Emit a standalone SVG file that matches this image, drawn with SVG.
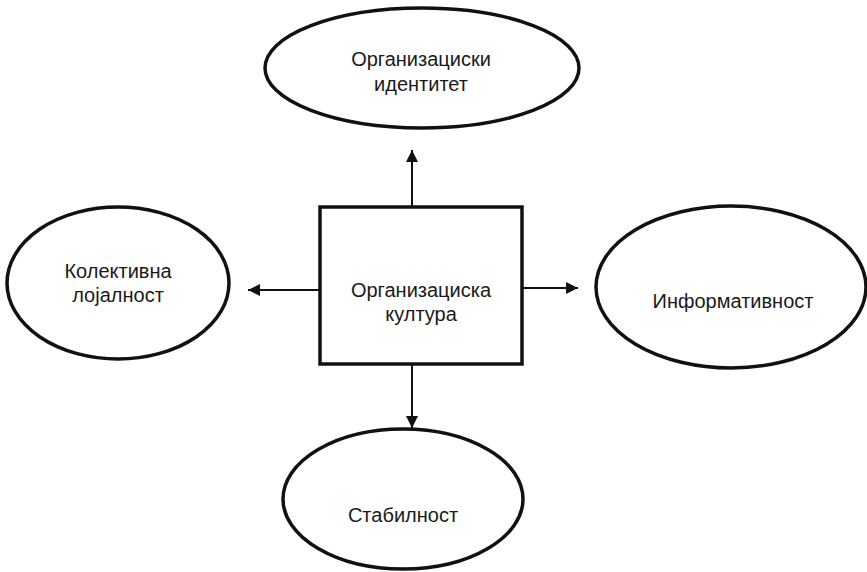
<svg xmlns="http://www.w3.org/2000/svg" width="867" height="572" viewBox="0 0 867 572">
<style>
.n{fill:#fff;stroke:#111;stroke-width:3.5}
.t{font-family:"Liberation Sans",Arial,sans-serif;font-size:20px;fill:#1a1a1a;text-anchor:middle}
.c{stroke:#111;stroke-width:2;fill:none}
</style>
<defs>
<marker id="a" viewBox="0 0 12 12" refX="12" refY="6" markerWidth="12" markerHeight="12" markerUnits="userSpaceOnUse" orient="auto">
<path d="M0,0 L12,6 L0,12 Z" fill="#111"/>
</marker>
</defs>
<rect width="867" height="572" fill="#fff"/>
<g id="connectors">
<line class="c" x1="412" y1="207" x2="412" y2="150" marker-end="url(#a)"/>
<line class="c" x1="320" y1="290" x2="248" y2="290" marker-end="url(#a)"/>
<line class="c" x1="522" y1="288" x2="578" y2="288" marker-end="url(#a)"/>
<line class="c" x1="412" y1="364" x2="412" y2="428" marker-end="url(#a)"/>
</g>
<g id="center">
<rect class="n" x="320" y="207" width="202" height="157"/>
<text class="t" x="421" y="297">Организациска</text>
<text class="t" x="421" y="321">култура</text>
</g>
<g id="top">
<ellipse class="n" cx="422" cy="68" rx="157" ry="60"/>
<text class="t" x="421" y="66">Организациски</text>
<text class="t" x="421" y="91">идентитет</text>
</g>
<g id="left">
<ellipse class="n" cx="118" cy="283" rx="111" ry="76"/>
<text class="t" x="118" y="278">Колективна</text>
<text class="t" x="118" y="302">лојалност</text>
</g>
<g id="right">
<ellipse class="n" cx="731" cy="287" rx="135" ry="81"/>
<text class="t" x="733" y="308">Информативност</text>
</g>
<g id="bottom">
<ellipse class="n" cx="403" cy="499" rx="120" ry="70"/>
<text class="t" x="403" y="522">Стабилност</text>
</g>
</svg>
